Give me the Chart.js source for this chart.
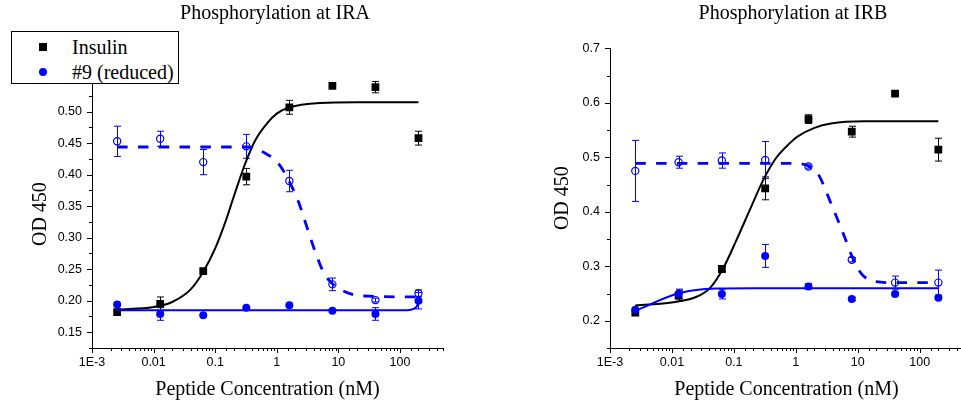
<!DOCTYPE html>
<html>
<head>
<meta charset="utf-8">
<script src="https://cdn.jsdelivr.net/npm/chart.js@4.4.1/dist/chart.umd.min.js"></script>
<style>
  html, body { margin: 0; padding: 0; background: #fff; overflow: hidden; }
  body { width: 961px; height: 406px; position: relative; }
  .panel { position: absolute; top: 0; height: 406px; }
  #panelA { left: 0; width: 550px; }
  #panelB { left: 545px; width: 496px; }
  #legendA {
    position: absolute; left: 11px; top: 31px; width: 168px; height: 53px;
    border: 1px solid #000; box-sizing: border-box; background: #fff;
    font: 20px "Liberation Serif", "Times New Roman", serif; color: #000; z-index: 5;
  }
  #legendA .mark { position: absolute; width: 8px; height: 8px; }
  #legendA .txt { position: absolute; left: 60px; line-height: 20px; white-space: nowrap; }
</style>
</head>
<body>
<div class="panel" id="panelA"><canvas id="chartA" width="550" height="406"></canvas></div>
<div class="panel" id="panelB"><canvas id="chartB" width="496" height="406"></canvas></div>
<div id="legendA"></div>

<script>
// concentrations (nM), 5-fold dilution series
const conc = [0.00256, 0.0128, 0.064, 0.32, 1.6, 8, 40, 200];

// --- IRA ---
const insulinA    = [0.182, 0.195, 0.247, 0.397, 0.507, 0.541, 0.539, 0.458];
const insulinAErr = [0.003, 0.011, 0.004, 0.013, 0.011, 0.003, 0.009, 0.011];
const reducedA    = [0.194, 0.179, 0.177, 0.189, 0.193, 0.184, 0.179, 0.200];
const reducedAErr = [0.002, 0.010, 0.002, 0.002, 0.003, 0.002, 0.010, 0.013];
const openA       = [0.453, 0.457, 0.420, 0.445, 0.390, 0.226, 0.201, 0.212];
const openAErr    = [0.024, 0.012, 0.020, 0.019, 0.017, 0.010, 0.003, 0.005];

// fitted curves
const insulinFitAx = [0.00256, 0.01, 0.02, 0.04, 0.064, 0.1, 0.15, 0.2, 0.3, 0.45, 0.7, 1, 1.5, 2.5, 5, 20, 200];
const insulinFitAy = [0.186, 0.190, 0.198, 0.218, 0.246, 0.283, 0.328, 0.365, 0.415, 0.455, 0.482, 0.497, 0.506, 0.511, 0.514, 0.515, 0.515];
const reducedFitAx = [0.00256, 130, 170, 190, 200];
const reducedFitAy = [0.185, 0.185, 0.1875, 0.192, 0.199];
const openFitAx    = [0.00256, 0.35, 0.65, 1.06, 1.66, 2.25, 2.9, 4.2, 5.7, 7.8, 14.6, 27, 200];
const openFitAy    = [0.444, 0.444, 0.434, 0.418, 0.386, 0.357, 0.325, 0.278, 0.246, 0.228, 0.212, 0.2075, 0.206];

// --- IRB ---
const insulinB    = [0.215, 0.246, 0.295, 0.443, 0.570, 0.547, 0.617, 0.514];
const insulinBErr = [0.003, 0.010, 0.004, 0.021, 0.008, 0.010, 0.003, 0.021];
const reducedB    = [0.220, 0.249, 0.249, 0.319, 0.263, 0.240, 0.249, 0.242];
const reducedBErr = [0.003, 0.009, 0.009, 0.021, 0.005, 0.003, 0.003, 0.003];
const openB       = [0.475, 0.491, 0.494, 0.495, 0.483, 0.312, 0.270, 0.270];
const openBErr    = [0.056, 0.011, 0.014, 0.034, 0.003, 0.004, 0.012, 0.023];

const insulinFitBx = [0.00256, 0.012, 0.025, 0.041, 0.067, 0.11, 0.18, 0.3, 0.49, 0.8, 1.06, 2, 3.7, 12.6, 200];
const insulinFitBy = [0.228, 0.235, 0.244, 0.260, 0.296, 0.348, 0.403, 0.459, 0.500, 0.526, 0.538, 0.554, 0.562, 0.566, 0.566];
const reducedFitBx = [0.00256, 0.012, 0.025, 0.052, 0.2, 200];
const reducedFitBy = [0.218, 0.2495, 0.2565, 0.259, 0.2597, 0.2597];
const openFitBx    = [0.00256, 0.8, 1.2, 1.6, 2.24, 2.88, 3.67, 5.0, 6.4, 8.3, 11.3, 18.6, 39, 200];
const openFitBy    = [0.489, 0.489, 0.488, 0.484, 0.471, 0.446, 0.416, 0.379, 0.348, 0.315, 0.287, 0.272, 0.270, 0.270];

// axis ticks
const xTickValues  = [0.001, 0.01, 0.1, 1, 10, 100];
const xTickLabels  = ['1E-3', '0.01', '0.1', '1', '10', '100'];
const yTickValuesA = [0.15, 0.20, 0.25, 0.30, 0.35, 0.40, 0.45, 0.50];
const yTickLabelsA = ['0.15', '0.20', '0.25', '0.30', '0.35', '0.40', '0.45', '0.50'];
const yTickValuesB = [0.2, 0.3, 0.4, 0.5, 0.6, 0.7];
const yTickLabelsB = ['0.2', '0.3', '0.4', '0.5', '0.6', '0.7'];

const BLUE = '#0000ff';
const SERIF = '"Liberation Serif", "Times New Roman", serif';
const DASH = [10.5, 10.3];

Chart.defaults.font.family = '"Liberation Sans", Arial, sans-serif';
Chart.defaults.color = '#000';

const pts = (xs, ys) => xs.map((v, i) => ({ x: v, y: ys[i] }));

// vertical error bars with caps
const errorBars = {
  id: 'errorBars',
  beforeDatasetsDraw(chart) {
    const { ctx, scales: { x, y } } = chart;
    chart.data.datasets.forEach((ds) => {
      if (!ds.errors) return;
      ctx.save();
      ctx.strokeStyle = ds.borderColor;
      ctx.lineWidth = 1;
      ctx.beginPath();
      ds.data.forEach((p, j) => {
        const e = ds.errors[j];
        if (!e) return;
        const px = Math.round(x.getPixelForValue(p.x)) + 0.5;
        const top = y.getPixelForValue(p.y + e);
        const bot = y.getPixelForValue(p.y - e);
        ctx.moveTo(px, top); ctx.lineTo(px, bot);
        ctx.moveTo(px - 3.5, top); ctx.lineTo(px + 3.5, top);
        ctx.moveTo(px - 3.5, bot); ctx.lineTo(px + 3.5, bot);
      });
      ctx.stroke();
      ctx.restore();
    });
  }
};

// outward tick marks: long at labelled ticks, short otherwise
const tickMarks = {
  id: 'tickMarks',
  afterDraw(chart) {
    const { ctx, scales: { x, y } } = chart;
    ctx.save();
    ctx.strokeStyle = '#000';
    ctx.lineWidth = 1;
    ctx.beginPath();
    x.ticks.forEach((t) => {
      const px = Math.round(x.getPixelForValue(t.value)) + 0.5;
      ctx.moveTo(px, x.top);
      ctx.lineTo(px, x.top + (t.label ? 5 : 3));
    });
    y.ticks.forEach((t) => {
      const py = Math.round(y.getPixelForValue(t.value)) + 0.5;
      ctx.moveTo(y.right, py);
      ctx.lineTo(y.right - (t.label ? 5 : 3), py);
    });
    ctx.stroke();
    ctx.restore();
  }
};

function fitLine(label, xs, ys, color, dash) {
  return {
    label, data: pts(xs, ys), showLine: true, borderColor: color,
    borderWidth: dash ? 2.8 : 2, borderDash: dash || [], pointRadius: 0,
    cubicInterpolationMode: 'monotone', fill: false
  };
}

function markers(label, ys, errs, style, inLegend) {
  const base = { label, data: pts(conc, ys), errors: errs, showLine: false, inLegend };
  if (style === 'square') {
    return { ...base, pointStyle: 'rect', pointRadius: 5.5, backgroundColor: '#000', borderColor: '#000', borderWidth: 0 };
  }
  if (style === 'dot') {
    return { ...base, pointStyle: 'circle', pointRadius: 4, backgroundColor: BLUE, borderColor: BLUE, borderWidth: 0 };
  }
  return { ...base, pointStyle: 'circle', pointRadius: 3.6, backgroundColor: 'rgba(0,0,0,0)', borderColor: BLUE, borderWidth: 1.2 };
}

function labelFor(values, labels, v, log) {
  const k = values.findIndex(t => log ? Math.abs(Math.log10(v) - Math.log10(t)) < 1e-6 : Math.abs(v - t) < 1e-6);
  return k >= 0 ? labels[k] : '';
}

function makeChart(canvasId, cfg) {
  return new Chart(document.getElementById(canvasId), {
    type: 'scatter',
    data: { datasets: cfg.datasets },
    plugins: [errorBars, tickMarks],
    options: {
      responsive: false,
      animation: false,
      events: [],
      layout: { padding: 0 },
      plugins: {
        legend: { display: false },
        tooltip: { enabled: false },
        title: {
          display: true, text: cfg.title, color: '#000',
          font: { family: SERIF, size: 20, weight: 'normal' },
          padding: { top: 1.5, bottom: cfg.titleGap }
        }
      },
      scales: {
        x: {
          type: 'logarithmic', min: 0.001, max: 500,
          grid: { display: false, drawTicks: false },
          border: { display: true, color: '#000', width: 1 },
          ticks: {
            autoSkip: false, maxRotation: 0, padding: 7,
            font: { size: 12.5 },
            callback: (v) => labelFor(xTickValues, xTickLabels, v, true)
          },
          title: {
            display: true, text: 'Peptide Concentration (nM)', color: '#000',
            font: { family: SERIF, size: 20 }, padding: { top: 0, bottom: 4 }
          },
          afterFit: (s) => { s.height = 58; }
        },
        y: {
          type: 'linear', min: cfg.yMin, max: cfg.yMax,
          grid: { display: false, drawTicks: false },
          border: { display: true, color: '#000', width: 1 },
          ticks: {
            stepSize: cfg.yStep, autoSkip: false, padding: 10,
            font: { size: 12.5 },
            callback: (v) => labelFor(cfg.yVals, cfg.yLabels, v, false)
          },
          title: {
            display: true, text: 'OD 450', color: '#000',
            font: { family: SERIF, size: 20 }, padding: { top: cfg.yTitlePad, bottom: 0 }
          },
          afterFit: (s) => { s.width = cfg.yWidth; }
        },
        // empty right-hand box: keeps white space right of the plot
        // while the title stays centred on the whole canvas
        gap: {
          type: 'linear', position: 'right', display: true,
          grid: { display: false, drawTicks: false },
          border: { display: false },
          ticks: { display: false },
          afterFit: (s) => { s.width = cfg.padRight; }
        }
      }
    }
  });
}

const chartA = makeChart('chartA', {
  title: 'Phosphorylation at IRA', padRight: 107, titleGap: 54.7,
  yMin: 0.125, yMax: 0.55, yStep: 0.025, yVals: yTickValuesA, yLabels: yTickLabelsA,
  yWidth: 92, yTitlePad: 28.5,
  datasets: [
    fitLine('#9 fit', openFitAx, openFitAy, BLUE, DASH),
    fitLine('#9 (reduced) fit', reducedFitAx, reducedFitAy, BLUE),
    fitLine('Insulin fit', insulinFitAx, insulinFitAy, '#000'),
    markers('#9', openA, openAErr, 'open', false),
    markers('#9 (reduced)', reducedA, reducedAErr, 'dot', true),
    markers('Insulin', insulinA, insulinAErr, 'square', true)
  ]
});

makeChart('chartB', {
  title: 'Phosphorylation at IRB', padRight: 78, titleGap: 22.8,
  yMin: 0.15, yMax: 0.7, yStep: 0.05, yVals: yTickValuesB, yLabels: yTickLabelsB,
  yWidth: 65, yTitlePad: 5.5,
  datasets: [
    fitLine('#9 fit', openFitBx, openFitBy, BLUE, DASH),
    fitLine('#9 (reduced) fit', reducedFitBx, reducedFitBy, BLUE),
    fitLine('Insulin fit', insulinFitBx, insulinFitBy, '#000'),
    markers('#9', openB, openBErr, 'open', false),
    markers('#9 (reduced)', reducedB, reducedBErr, 'dot', true),
    markers('Insulin', insulinB, insulinBErr, 'square', true)
  ]
});

// legend box, built from the left chart's datasets
const legendEl = document.getElementById('legendA');
const legendItems = chartA.data.datasets.filter(d => d.inLegend).reverse();
legendItems.forEach((d, i) => {
  const mark = document.createElement('span');
  mark.className = 'mark';
  mark.style.left = '27px';
  mark.style.top = (10.7 + i * 25) + 'px';
  mark.style.background = d.backgroundColor;
  if (d.pointStyle === 'circle') mark.style.borderRadius = '50%';
  const txt = document.createElement('span');
  txt.className = 'txt';
  txt.style.top = (5.3 + i * 25) + 'px';
  txt.textContent = d.label;
  legendEl.appendChild(mark);
  legendEl.appendChild(txt);
});
</script>
</body>
</html>
